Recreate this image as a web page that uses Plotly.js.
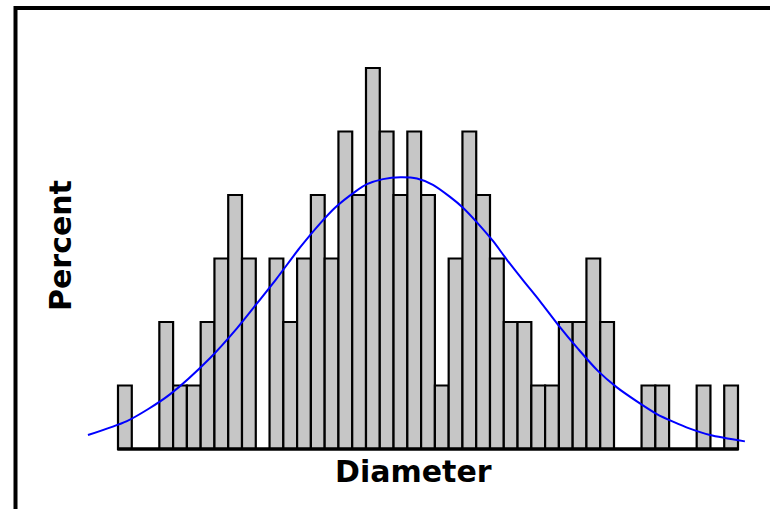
<!DOCTYPE html>
<html>
<head>
<meta charset="utf-8">
<script src="https://cdn.plot.ly/plotly-3.0.1.min.js"></script>
<style>
  html, body { margin: 0; padding: 0; background: #fff; overflow: hidden; }
  #chart { width: 770px; height: 509px; }
</style>
</head>
<body>
<div id="chart"></div>
<script>
// Histogram bins (index of each diameter class) and percent of observations
const binIndex = [0,1,2,3,4,5,6,7,8,9,10,11,12,13,14,15,16,17,18,19,20,21,22,
                  23,24,25,26,27,28,29,30,31,32,33,34,35,36,37,38,39,40,41,42,43,44];
const percentValues = [1,0,0,2,1,1,2,3,4,3,0,3,2,3,4,3,5,4,6,5,4,5,4,
                       1,3,5,4,3,2,2,1,1,2,2,3,2,0,0,1,1,0,0,1,0,1];

// Fitted normal curve (bin units, percent)
const curveX = [-2.68,0.15,1.7,3.27,6.17,8.13,9.43,11.0,12.7,14.16,15.25,16.7,17.57,18.73,20.0,21.2,
                22.36,23.6,24.54,25.55,26.7,27.73,28.89,30.12,31.43,32.88,34.33,35.71,37.16,
                38.61,39.78,41.01,42.47,45.0];
const curveY = [0.22,0.44,0.63,0.86,1.43,1.90,2.25,2.68,3.17,3.55,3.80,4.05,4.17,4.25,4.28,4.26,
                4.16,3.97,3.80,3.57,3.28,2.98,2.66,2.33,1.96,1.58,1.23,0.97,0.75,
                0.55,0.43,0.32,0.22,0.12];

const xLabel = "Diameter";
const yLabel = "Percent";

const bars = {
  type: 'bar',
  x: binIndex,
  y: percentValues,
  width: 1,
  marker: { color: '#c6c6c6', line: { color: '#000000', width: 2.2 } },
  hoverinfo: 'skip'
};

const curve = {
  type: 'scatter',
  mode: 'lines',
  x: curveX,
  y: curveY,
  line: { color: '#0000ff', width: 2, shape: 'spline', smoothing: 0.8 },
  hoverinfo: 'skip'
};

// plot area: px 80..750 horizontally, 20..455 vertically
const L = 80, R = 20, T = 20, B = 54;
const W = 770, H = 509;
const pw = W - L - R, ph = H - T - B;
function px2paperX(p) { return (p - L) / pw; }
function px2paperY(p) { return (H - B - p) / ph; }

const layout = {
  width: W, height: H,
  margin: { l: L, r: R, t: T, b: B, pad: 0 },
  paper_bgcolor: '#ffffff',
  plot_bgcolor: '#ffffff',
  showlegend: false,
  bargap: 0,
  xaxis: {
    range: [-3.258, 45.371],
    showgrid: false, zeroline: false, showline: false,
    showticklabels: false, ticks: '', fixedrange: true
  },
  yaxis: {
    range: [-0.0945, 6.756],
    showgrid: false, zeroline: false, showline: false,
    showticklabels: false, ticks: '', fixedrange: true
  },
  shapes: [
    { type: 'line', xref: 'x', yref: 'y', x0: -0.55, x1: 44.55, y0: 0, y1: 0,
      line: { color: '#000', width: 3.5 }, layer: 'above' },
    { type: 'rect', xref: 'paper', yref: 'paper',
      x0: px2paperX(15.5), x1: px2paperX(800), y0: px2paperY(540), y1: px2paperY(8),
      line: { color: '#000', width: 4 }, fillcolor: 'rgba(0,0,0,0)' }
  ],
  annotations: [
    { text: xLabel, xref: 'paper', yref: 'paper', x: px2paperX(413), y: px2paperY(472),
      xanchor: 'center', yanchor: 'middle', showarrow: false,
      font: { family: 'DejaVu Sans', size: 30, color: '#000', weight: 'bold' } },
    { text: yLabel, xref: 'paper', yref: 'paper', x: px2paperX(60), y: px2paperY(246),
      xanchor: 'center', yanchor: 'middle', showarrow: false, textangle: -90,
      font: { family: 'DejaVu Sans', size: 30, color: '#000', weight: 'bold' } }
  ]
};

Plotly.newPlot('chart', [bars, curve], layout, { staticPlot: true, displayModeBar: false });
</script>
</body>
</html>
